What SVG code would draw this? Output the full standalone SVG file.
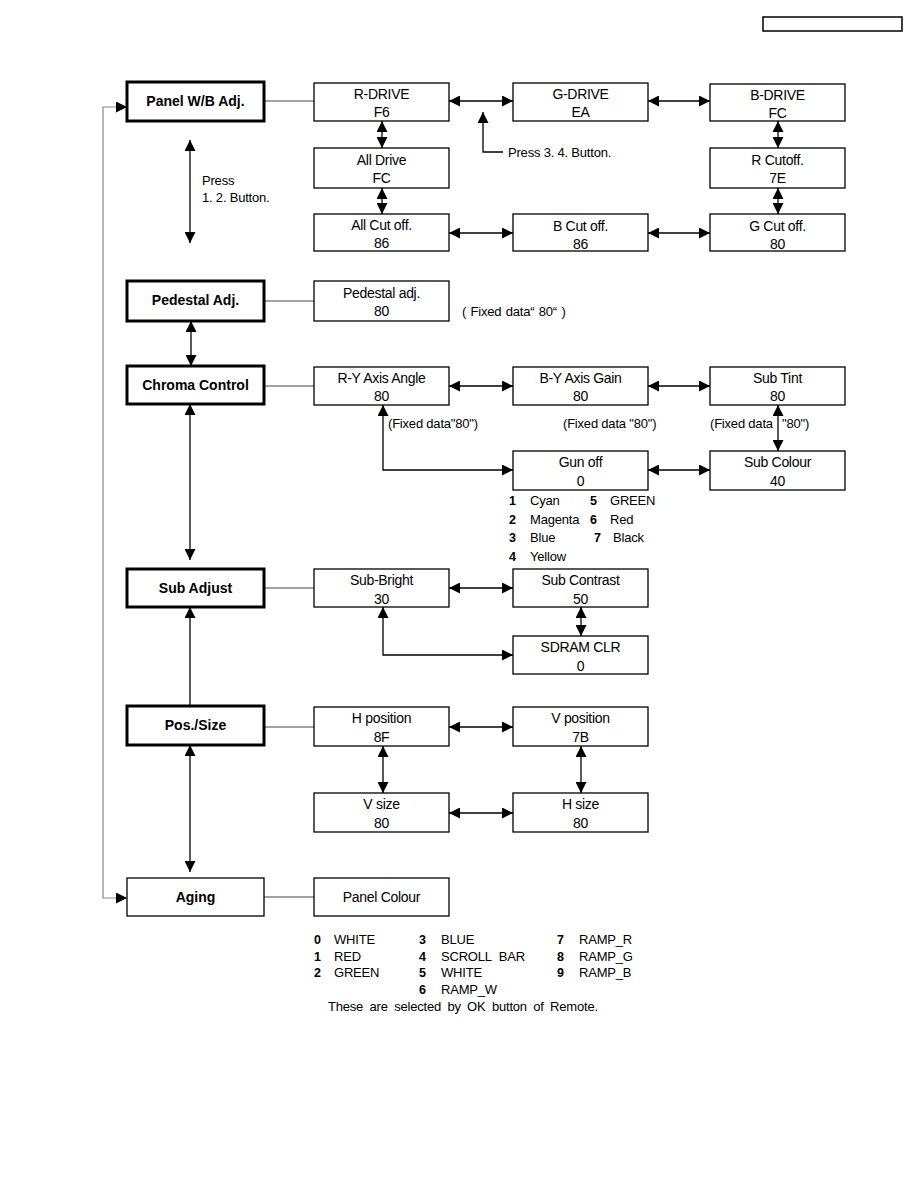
<svg xmlns="http://www.w3.org/2000/svg" width="918" height="1188" viewBox="0 0 918 1188">
<style>
.bx{fill:#fff;stroke:#000;stroke-width:1.3}
.tk{fill:#fff;stroke:#000;stroke-width:3}
.t{font-family:"Liberation Sans",Arial,sans-serif;font-size:14px;fill:#000;text-anchor:middle;letter-spacing:-0.3px}
.b{font-family:"Liberation Sans",Arial,sans-serif;font-size:14px;font-weight:bold;fill:#000;text-anchor:middle}
.s{font-family:"Liberation Sans",Arial,sans-serif;font-size:13px;fill:#000;letter-spacing:-0.2px}
.n{font-family:"Liberation Sans",Arial,sans-serif;font-size:12.5px;font-weight:bold;fill:#000}
.a{fill:none;stroke:#000;stroke-width:1.3;marker-start:url(#ah);marker-end:url(#ah)}
.e{fill:none;stroke:#000;stroke-width:1.3;marker-end:url(#ah)}
.l{fill:none;stroke:#444;stroke-width:1.1}
.g{fill:none;stroke:#888;stroke-width:1.2;marker-start:url(#ah);marker-end:url(#ah)}
</style>
<defs>
<marker id="ah" markerUnits="userSpaceOnUse" markerWidth="11" markerHeight="11" viewBox="0 0 10 10" refX="10" refY="5" orient="auto-start-reverse">
<path d="M0,0 L10,5 L0,10 z" fill="#000"/>
</marker>
</defs>
<rect x="763" y="17" width="139" height="14" fill="none" stroke="#000" stroke-width="1.5"/>

<g id="connectors">
<path class="g" d="M127,107 H103 V898 H127"/>
<path class="l" d="M264,101 H314 M264,301 H314 M264,386 H314 M264,588 H314 M264,727 H314 M264,897 H314"/>
<path class="a" d="M449,101 H513"/>
<path class="a" d="M648,101 H710"/>
<path class="a" d="M382,121 V148"/>
<path class="a" d="M382,188 V214"/>
<path class="a" d="M778,121 V148"/>
<path class="a" d="M778,188 V214"/>
<path class="a" d="M449,233 H513"/>
<path class="a" d="M648,233 H710"/>
<path class="e" d="M503,152 H483 V112"/>
<path class="a" d="M190,140 V243"/>
<path class="a" d="M191,321 V366"/>
<path class="a" d="M449,386 H513"/>
<path class="a" d="M648,386 H710"/>
<path class="a" d="M778,405 V451"/>
<path class="a" d="M648,470 H710"/>
<path class="a" d="M383,405 V470 H513"/>
<path class="a" d="M190,404 V560"/>
<path class="a" d="M449,588 H513"/>
<path class="a" d="M581,607 V636"/>
<path class="a" d="M383,607 V655 H513"/>
<path class="e" d="M190,706 V607"/>
<path class="a" d="M449,727 H513"/>
<path class="a" d="M383,746 V793"/>
<path class="a" d="M581,746 V793"/>
<path class="a" d="M449,813 H513"/>
<path class="a" d="M190,745 V872"/>
</g>

<g id="panel-wb"><rect class="tk" x="127" y="82" width="137" height="39"/><text class="b" x="195.5" y="106">Panel W/B Adj.</text></g>
<g id="r-drive"><rect class="bx" x="314" y="83" width="135" height="38"/><text class="t" x="381.5" y="98.5">R-DRIVE</text><text class="t" x="381.5" y="117">F6</text></g>
<g id="g-drive"><rect class="bx" x="513" y="83" width="135" height="38"/><text class="t" x="580.5" y="98.5">G-DRIVE</text><text class="t" x="580.5" y="117">EA</text></g>
<g id="b-drive"><rect class="bx" x="710" y="84" width="135" height="37"/><text class="t" x="777.5" y="99.5">B-DRIVE</text><text class="t" x="777.5" y="118">FC</text></g>
<g id="all-drive"><rect class="bx" x="314" y="148" width="135" height="40"/><text class="t" x="381.5" y="165">All Drive</text><text class="t" x="381.5" y="183">FC</text></g>
<g id="r-cutoff"><rect class="bx" x="710" y="148" width="135" height="40"/><text class="t" x="777.5" y="165">R Cutoff.</text><text class="t" x="777.5" y="183">7E</text></g>
<g id="all-cutoff"><rect class="bx" x="314" y="214" width="135" height="37"/><text class="t" x="381.5" y="230">All Cut off.</text><text class="t" x="381.5" y="248">86</text></g>
<g id="b-cutoff"><rect class="bx" x="513" y="214" width="135" height="37"/><text class="t" x="580.5" y="231">B Cut off.</text><text class="t" x="580.5" y="249">86</text></g>
<g id="g-cutoff"><rect class="bx" x="710" y="214" width="135" height="37"/><text class="t" x="777.5" y="231">G Cut off.</text><text class="t" x="777.5" y="249">80</text></g>
<g id="press12"><text class="s" x="202" y="185">Press</text><text class="s" x="202" y="202">1. 2. Button.</text></g>
<g id="press34"><text class="s" x="508" y="157">Press 3. 4. Button.</text></g>

<g id="pedestal"><rect class="tk" x="127" y="281" width="137" height="40"/><text class="b" x="195.5" y="305">Pedestal Adj.</text></g>
<g id="pedestal-adj"><rect class="bx" x="314" y="281" width="135" height="40"/><text class="t" x="381.5" y="298">Pedestal adj.</text><text class="t" x="381.5" y="316">80</text></g>
<text class="s" x="462" y="316" style="word-spacing:1px">( Fixed data“ 80“ )</text>

<g id="chroma"><rect class="tk" x="127" y="366" width="137" height="38"/><text class="b" x="195.5" y="390">Chroma Control</text></g>
<g id="ry"><rect class="bx" x="314" y="367" width="135" height="38"/><text class="t" x="381.5" y="382.5">R-Y Axis Angle</text><text class="t" x="381.5" y="401">80</text></g>
<g id="by"><rect class="bx" x="513" y="367" width="135" height="38"/><text class="t" x="580.5" y="382.5">B-Y Axis Gain</text><text class="t" x="580.5" y="401">80</text></g>
<g id="subtint"><rect class="bx" x="710" y="367" width="135" height="38"/><text class="t" x="777.5" y="382.5">Sub Tint</text><text class="t" x="777.5" y="401">80</text></g>
<text class="s" x="388" y="428">(Fixed data"80")</text>
<text class="s" x="563" y="428">(Fixed data "80")</text>
<text class="s" x="710" y="428">(Fixed data</text>
<text class="s" x="782" y="428">"80")</text>
<g id="gunoff"><rect class="bx" x="513" y="451" width="135" height="39"/><text class="t" x="580.5" y="467">Gun off</text><text class="t" x="580.5" y="485.5">0</text></g>
<g id="subcolour"><rect class="bx" x="710" y="451" width="135" height="39"/><text class="t" x="777.5" y="467">Sub Colour</text><text class="t" x="777.5" y="485.5">40</text></g>
<g id="gun-list">
<text class="n" x="509" y="505">1</text><text class="s" x="530" y="505">Cyan</text>
<text class="n" x="590" y="505">5</text><text class="s" x="610" y="505">GREEN</text>
<text class="n" x="509" y="524">2</text><text class="s" x="530" y="524">Magenta</text>
<text class="n" x="590" y="524">6</text><text class="s" x="610" y="524">Red</text>
<text class="n" x="509" y="542">3</text><text class="s" x="530" y="542">Blue</text>
<text class="n" x="594" y="542">7</text><text class="s" x="613" y="542">Black</text>
<text class="n" x="509" y="561">4</text><text class="s" x="530" y="561">Yellow</text>
</g>

<g id="subadjust"><rect class="tk" x="127" y="569" width="137" height="38"/><text class="b" x="195.5" y="593">Sub Adjust</text></g>
<g id="subbright"><rect class="bx" x="314" y="569" width="135" height="38"/><text class="t" x="381.5" y="585">Sub-Bright</text><text class="t" x="381.5" y="603.5">30</text></g>
<g id="subcontrast"><rect class="bx" x="513" y="569" width="135" height="38"/><text class="t" x="580.5" y="585">Sub Contrast</text><text class="t" x="580.5" y="603.5">50</text></g>
<g id="sdram"><rect class="bx" x="513" y="636" width="135" height="38"/><text class="t" x="580.5" y="652">SDRAM CLR</text><text class="t" x="580.5" y="670.5">0</text></g>

<g id="possize"><rect class="tk" x="127" y="706" width="137" height="39"/><text class="b" x="195.5" y="730">Pos./Size</text></g>
<g id="hpos"><rect class="bx" x="314" y="707" width="135" height="39"/><text class="t" x="381.5" y="723">H position</text><text class="t" x="381.5" y="741.5">8F</text></g>
<g id="vpos"><rect class="bx" x="513" y="707" width="135" height="39"/><text class="t" x="580.5" y="723">V position</text><text class="t" x="580.5" y="741.5">7B</text></g>
<g id="vsize"><rect class="bx" x="314" y="793" width="135" height="39"/><text class="t" x="381.5" y="809">V size</text><text class="t" x="381.5" y="827.5">80</text></g>
<g id="hsize"><rect class="bx" x="513" y="793" width="135" height="39"/><text class="t" x="580.5" y="809">H size</text><text class="t" x="580.5" y="827.5">80</text></g>

<g id="aging"><rect class="bx" x="127" y="878" width="137" height="38"/><text class="b" x="195.5" y="902">Aging</text></g>
<g id="panelcolour"><rect class="bx" x="314" y="878" width="135" height="38"/><text class="t" x="381.5" y="902">Panel Colour</text></g>
<g id="aging-list">
<text class="n" x="314" y="944">0</text><text class="s" x="334" y="944">WHITE</text>
<text class="n" x="314" y="961">1</text><text class="s" x="334" y="961">RED</text>
<text class="n" x="314" y="977">2</text><text class="s" x="334" y="977">GREEN</text>
<text class="n" x="419" y="944">3</text><text class="s" x="441" y="944">BLUE</text>
<text class="n" x="419" y="961">4</text><text class="s" x="441" y="961" style="word-spacing:4px">SCROLL BAR</text>
<text class="n" x="419" y="977">5</text><text class="s" x="441" y="977">WHITE</text>
<text class="n" x="419" y="994">6</text><text class="s" x="441" y="994">RAMP_W</text>
<text class="n" x="557" y="944">7</text><text class="s" x="579" y="944">RAMP_R</text>
<text class="n" x="557" y="961">8</text><text class="s" x="579" y="961">RAMP_G</text>
<text class="n" x="557" y="977">9</text><text class="s" x="579" y="977">RAMP_B</text>
<text class="s" x="328" y="1011" style="word-spacing:3px">These are selected by OK button of Remote.</text>
</g>
</svg>
